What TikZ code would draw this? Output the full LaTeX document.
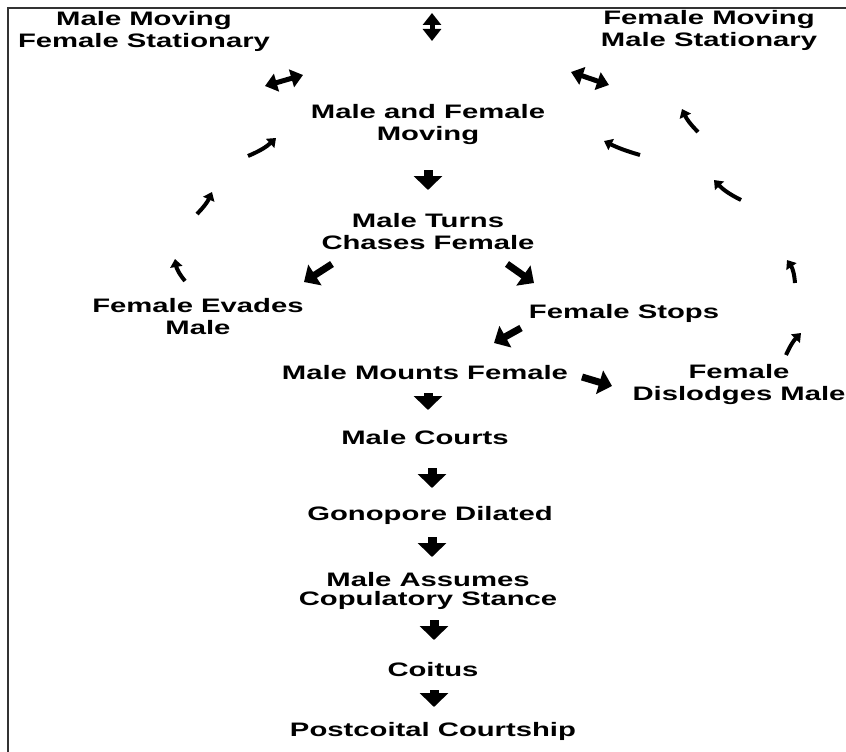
\documentclass[tikz,border=0pt]{standalone}
\usepackage{fontspec}
\setmainfont{Liberation Sans}[FakeStretch=1.5]
\usetikzlibrary{arrows.meta,calc}
\begin{document}
\begin{tikzpicture}[x=1pt,y=-1pt,
 lbl/.style={font=\bfseries\fontsize{19.5}{22}\selectfont, align=center, inner sep=0pt},
 bigarrow/.style={line width=9pt, -{Triangle[width=28pt,length=14pt]}},
 midarrow/.style={line width=7pt, -{Triangle[width=24pt,length=13pt]}},
 smallarrow/.style={line width=4pt, -{Triangle[width=12pt,length=8pt]}},
 dblarrow/.style={line width=5pt, {Triangle[width=18pt,length=12pt]}-{Triangle[width=18pt,length=12pt]}},
 frame/.style={line width=1.5pt, black!80}]
\useasboundingbox (0,0) rectangle (846,752);
\draw[frame] (846,8) -- (8,8) -- (8,752);

\node[lbl] (mmfs) at (144,31) {Male Moving\\Female Stationary};
\node[lbl] (fmms) at (709,30) {Female Moving\\Male Stationary};
\node[lbl] (mfm) at (428,125) {Male and Female\\Moving};
\node[lbl] (mt) at (428,232) {Male Turns\\Chases Female};
\node[lbl] (fe) at (198,317) {Female Evades\\Male};
\node[lbl] (fs) at (624,313) {Female Stops};
\node[lbl] (mmf) at (425,373) {Male Mounts Female};
\node[lbl] (fdm) at (739,384) {Female\\Dislodges Male};
\node[lbl] (mc) at (425,438) {Male Courts};
\node[lbl] (gd) at (430,515) {Gonopore Dilated};
\node[lbl, font=\bfseries\fontsize{19.5}{19}\selectfont] (mas) at (428,591) {Male Assumes\\Copulatory Stance};
\node[lbl] (co) at (433,670) {Coitus};
\node[lbl] (pc) at (433,731) {Postcoital Courtship};

% main vertical arrows
\draw[bigarrow] ($(mfm)+(0,45)$) -- ($(mt)+(0,-42)$);
\draw[bigarrow] ($(mmf)+(3,20)$) -- ($(mc)+(3,-28)$);
\draw[bigarrow] ($(mc)+(7,30)$) -- ($(gd)+(2,-27)$);
\draw[bigarrow] ($(gd)+(2,22)$) -- ($(mas)+(4,-34)$);
\draw[bigarrow] ($(mas)+(6,29)$) -- ($(co)+(1,-30)$);
\draw[bigarrow] ($(co)+(1,20)$) -- ($(pc)+(1,-24)$);

% diagonal arrows
\draw[midarrow] ($(mt)+(-96,32)$) -- ($(fe)+(106,-35)$);
\draw[midarrow] ($(mt)+(79,32)$) -- ($(fs)+(-90,-30)$);
\draw[midarrow] ($(fs)+(-103,15)$) -- ($(mmf)+(69,-30)$);
\draw[midarrow] ($(mmf)+(157,4)$) -- ($(fdm)+(-127,2)$);

% double arrows
\draw[dblarrow] ($(mmfs)+(121,55)$) -- ($(mfm)+(-125,-50)$);
\draw[dblarrow] ($(fmms)+(-138,42)$) -- ($(mfm)+(181,-40)$);
\coordinate (tda) at (432,13);
\coordinate (tdb) at (432,41);
\draw[dblarrow] (tda) -- (tdb);

% return arcs (fragments)
\draw[smallarrow] (185,281) to[bend left=15] (175,259);
\draw[smallarrow] (197,214) to[bend right=10] (212,192);
\draw[smallarrow] (248,156) to[bend right=10] (276,138);
\draw[smallarrow] (698,132) to[bend left=10] (682,109);
\draw[smallarrow] (640,155) to[bend left=5] (604,141);
\draw[smallarrow] (741,200) to[bend left=10] (714,180);
\draw[smallarrow] (795,283) to[bend right=15] (787,260);
\draw[smallarrow] (786,355) to[bend left=10] (801,333);
\end{tikzpicture}
\end{document}
